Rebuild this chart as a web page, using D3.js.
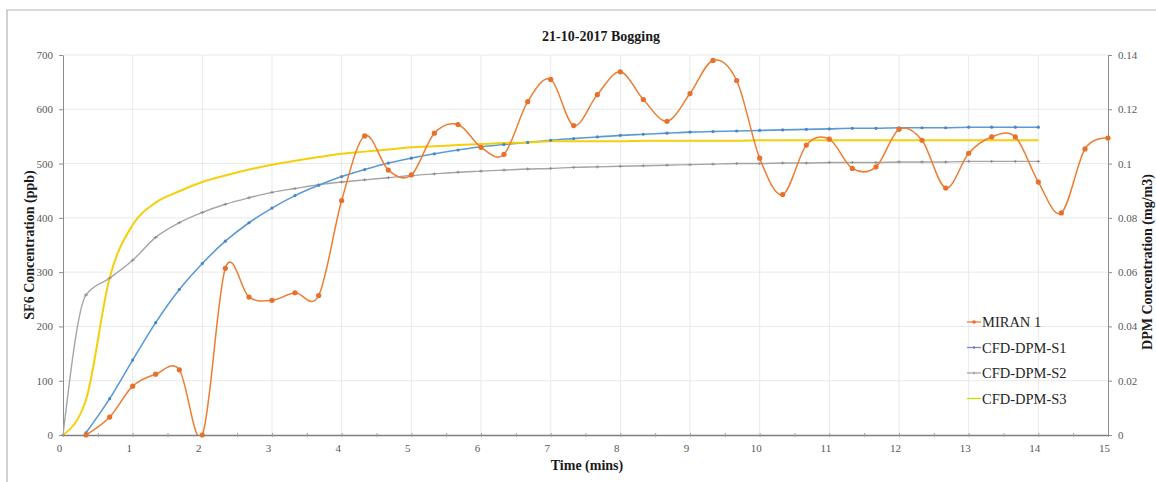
<!DOCTYPE html>
<html>
<head>
<meta charset="utf-8">
<script src="https://cdn.jsdelivr.net/npm/d3@7"></script>
<style>
  html, body { margin: 0; padding: 0; background: #fff; }
  svg { display: block; }
  text { font-family: "Liberation Serif", "Times New Roman", serif; }
</style>
</head>
<body>
<svg id="chart" width="1156" height="482"></svg>
<script>
// Measured SF6 (MIRAN 1) sampled every 20 s
const miranTime = [0.33,0.67,1.00,1.33,1.67,2.00,2.33,2.67,3.00,3.33,3.67,4.00,4.33,4.67,5.00,5.33,5.67,6.00,6.33,6.67,7.00,7.33,7.67,8.00,8.33,8.67,9.00,9.33,9.67,10.00,10.33,10.67,11.00,11.33,11.67,12.00,12.33,12.67,13.00,13.33,13.67,14.00,14.33,14.67,15.00];
const miran = [0,33,90,112,120,0,307,254,248,262,257,432,551,488,479,556,572,530,517,614,655,570,627,669,618,578,629,690,653,510,443,534,545,491,494,563,543,455,519,549,549,466,409,527,547];

// CFD-DPM scenario results (DPM, plotted on the same span as the SF6 axis)
const cfdTime = [0,0.33,0.67,1.00,1.33,1.67,2.00,2.33,2.67,3.00,3.33,3.67,4.00,4.33,4.67,5.00,5.33,5.67,6.00,6.33,6.67,7.00,7.33,7.67,8.00,8.33,8.67,9.00,9.33,9.67,10.00,10.33,10.67,11.00,11.33,11.67,12.00,12.33,12.67,13.00,13.33,13.67,14.00];
const cfdS1 = [null,4,67,138,207,268,316,357,391,418,441,460,476,489,501,510,518,525,531,535,539,543,546,549,552,554,556,558,559,560,561,562,563,564,565,565,566,566,566,567,567,567,567];
const cfdS2 = [0,258,289,322,364,391,410,425,437,447,454,461,466,470,474,478,481,484,486,488,490,491,493,494,495,496,497,498,499,500,500,501,501,502,502,502,503,503,503,504,504,504,504];
const cfdS3 = [0,65,290,387,428,449,466,478,489,498,505,512,518,522,526,530,532,534,536,538,539,541,541,541,541,542,542,542,542,542,543,543,543,543,543,543,543,543,543,543,543,543,543];

const seriesNames = ["MIRAN 1", "CFD-DPM-S1", "CFD-DPM-S2", "CFD-DPM-S3"];
const seriesColors = ["#ED7D31", "#5B9BD5", "#A5A5A5", "#F5CF0C"];
const legendColors = ["#ED7D31", "#7A86C8", "#A5A5A5", "#C8E000"];

const xTicks = [0,1,2,3,4,5,6,7,8,9,10,11,12,13,14,15];
const yTicks = [0,100,200,300,400,500,600,700];
const yRightTicks = [0,0.02,0.04,0.06,0.08,0.1,0.12,0.14];

const title = "21-10-2017 Bogging";
const xLabel = "Time (mins)";
const yLabel = "SF6 Concentration (ppb)";
const yRightLabel = "DPM Concentration (mg/m3)";

const svg = d3.select("#chart");
const W = 1156, H = 482;
const plot = { left: 63, right: 1108, top: 55, bottom: 435 };

// Outer chart frame (top and left edges visible)
svg.append("path")
  .attr("d", `M7,${H + 2}V10H${W + 2}`)
  .attr("fill", "none").attr("stroke", "#b4b4b4").attr("stroke-width", 1.2);

const x = d3.scaleLinear().domain([0, 15]).range([plot.left, plot.right]);
const y = d3.scaleLinear().domain([0, 700]).range([plot.bottom, plot.top]);
const yR = d3.scaleLinear().domain([0, 0.14]).range([plot.bottom, plot.top]);

// Gridlines
const grid = svg.append("g");
grid.selectAll("line.v").data(xTicks.slice(1, -1)).join("line")
  .attr("x1", d => x(d)).attr("x2", d => x(d))
  .attr("y1", plot.top).attr("y2", plot.bottom)
  .attr("stroke", "#e9e9e9").attr("stroke-width", 1);
grid.selectAll("line.h").data(yTicks.slice(1)).join("line")
  .attr("x1", plot.left).attr("x2", plot.right)
  .attr("y1", d => y(d)).attr("y2", d => y(d))
  .attr("stroke", "#e9e9e9").attr("stroke-width", 1);

// Axes
const tickFont = g => g.selectAll("text")
  .attr("font-family", "Liberation Serif, Times New Roman, serif")
  .attr("font-size", 11).attr("fill", "#595959");

const xAxis = svg.append("g")
  .attr("transform", `translate(0,${plot.bottom})`)
  .call(d3.axisBottom(x).tickValues(d3.range(0, 15.01, 0.5)).tickSize(4).tickSizeOuter(0)
    .tickFormat(d => Number.isInteger(d) ? d : ""))
  .call(tickFont);
xAxis.select(".domain").attr("stroke", "#7f7f7f").attr("stroke-width", 1.3);
xAxis.selectAll(".tick line").attr("stroke", "#a0a0a0").attr("y1", -2).attr("y2", 2);
xAxis.selectAll(".tick text").attr("dy", "0.71em").attr("y", 9).attr("dx", -4);

const yAxis = svg.append("g")
  .attr("transform", `translate(${plot.left},0)`)
  .call(d3.axisLeft(y).tickValues(yTicks).tickSize(4).tickSizeOuter(0))
  .call(tickFont);
yAxis.select(".domain").attr("stroke", "#8c8c8c").attr("stroke-width", 1);
yAxis.selectAll(".tick line").attr("stroke", "#8c8c8c");
yAxis.selectAll(".tick text").attr("x", -10);

const yRAxis = svg.append("g")
  .attr("transform", `translate(${plot.right},0)`)
  .call(d3.axisRight(yR).tickValues(yRightTicks).tickSize(4).tickSizeOuter(0)
    .tickFormat(d => d === 0 ? "0" : String(+d.toFixed(2))))
  .call(tickFont);
yRAxis.select(".domain").attr("stroke", "#8c8c8c").attr("stroke-width", 1);
yRAxis.selectAll(".tick line").attr("stroke", "#8c8c8c");
yRAxis.selectAll(".tick text").attr("x", 10);

// Series
svg.append("defs").append("clipPath").attr("id", "plot-clip")
  .append("rect").attr("x", plot.left).attr("y", plot.top - 20)
  .attr("width", plot.right - plot.left + 20).attr("height", plot.bottom - plot.top + 20);

const makeLine = curve => d3.line()
  .x(d => x(d[0])).y(d => y(d[1]))
  .curve(curve);
const measuredLine = makeLine(d3.curveCardinal.tension(0));
const modelLine = makeLine(d3.curveMonotoneX);

const zip = (t, v) => t.map((ti, i) => [ti, v[i]]);
const miranPts = zip(miranTime, miran);
const s1Pts = zip(cfdTime, cfdS1).filter(d => d[1] != null);
const s2Pts = zip(cfdTime, cfdS2);
const s3Pts = zip(cfdTime, cfdS3);

const lines = svg.append("g").attr("clip-path", "url(#plot-clip)");
lines.append("path").datum(s2Pts).attr("d", modelLine)
  .attr("fill", "none").attr("stroke", seriesColors[2]).attr("stroke-width", 1.4);
lines.append("path").datum(s1Pts).attr("d", modelLine)
  .attr("fill", "none").attr("stroke", seriesColors[1]).attr("stroke-width", 1.6);
lines.append("path").datum(s3Pts).attr("d", modelLine)
  .attr("fill", "none").attr("stroke", seriesColors[3]).attr("stroke-width", 2);
lines.append("path").datum(miranPts).attr("d", measuredLine)
  .attr("fill", "none").attr("stroke", seriesColors[0]).attr("stroke-width", 1.5);

// Markers
const marks = svg.append("g");
marks.append("g").selectAll("path").data(s2Pts).join("path")
  .attr("d", d => `M${x(d[0]) - 2},${y(d[1])}h4M${x(d[0])},${y(d[1]) - 1.5}v3`)
  .attr("stroke", "#8e8e8e").attr("stroke-width", 1);
marks.append("g").selectAll("circle").data(s1Pts).join("circle")
  .attr("cx", d => x(d[0])).attr("cy", d => y(d[1])).attr("r", 1.6)
  .attr("fill", "#4a86c5");
marks.append("g").selectAll("circle").data(miranPts).join("circle")
  .attr("cx", d => x(d[0])).attr("cy", d => y(d[1])).attr("r", 2.6)
  .attr("fill", "#E8702A");

// Title and axis titles
svg.append("text").attr("x", 601).attr("y", 41).attr("text-anchor", "middle")
  .attr("font-size", 14).attr("font-weight", "bold").attr("fill", "#1a1a1a").text(title);
svg.append("text").attr("x", 587).attr("y", 470).attr("text-anchor", "middle")
  .attr("font-size", 14).attr("font-weight", "bold").attr("fill", "#1a1a1a").text(xLabel);
svg.append("text").attr("transform", "translate(34,245) rotate(-90)").attr("text-anchor", "middle")
  .attr("font-size", 14).attr("font-weight", "bold").attr("fill", "#1a1a1a").text(yLabel);
svg.append("text").attr("transform", "translate(1152,262) rotate(-90)").attr("text-anchor", "middle")
  .attr("font-size", 14).attr("font-weight", "bold").attr("fill", "#1a1a1a").text(yRightLabel);

// Legend
const legend = svg.append("g").attr("transform", "translate(967,322)");
const rows = legend.selectAll("g").data(seriesNames).join("g")
  .attr("transform", (d, i) => `translate(0,${i * 25.5})`);
rows.append("line").attr("x1", 0).attr("x2", 14).attr("y1", 0).attr("y2", 0)
  .attr("stroke", (d, i) => legendColors[i]).attr("stroke-width", 1.3);
rows.filter((d, i) => i === 0).append("circle").attr("cx", 7).attr("cy", 0).attr("r", 1.8).attr("fill", "#E8702A");
rows.filter((d, i) => i === 1).append("circle").attr("cx", 7).attr("cy", 0).attr("r", 1.2).attr("fill", "#6a74c0");
rows.filter((d, i) => i === 2).append("path").attr("d", "M7,-1.5v3").attr("stroke", "#8e8e8e");
rows.append("text").attr("x", 15).attr("y", 5).attr("font-size", 14.5).attr("fill", "#262626")
  .text(d => d);
</script>
</body>
</html>
